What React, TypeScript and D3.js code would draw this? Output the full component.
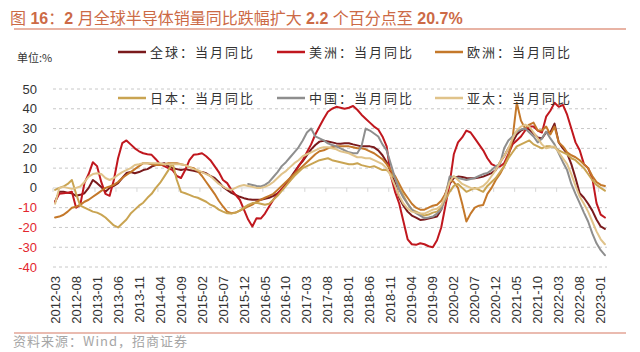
import React from 'react';
import * as d3 from 'd3';

const W = 640;
const H = 352;

// monthly categories 2012-03 .. 2023-02
const months: string[] = [];
for (let yr = 2012; yr <= 2023; yr++) {
  for (let m = 1; m <= 12; m++) {
    if (yr === 2012 && m < 3) continue;
    if (yr === 2023 && m > 2) continue;
    months.push(`${yr}-${String(m).padStart(2, '0')}`);
  }
}

const tickLabels = [
  '2012-03', '2012-08', '2013-01', '2013-06', '2013-11', '2014-04', '2014-09',
  '2015-02', '2015-07', '2015-12', '2016-05', '2016-10', '2017-03', '2017-08',
  '2018-01', '2018-06', '2018-11', '2019-04', '2019-09', '2020-02', '2020-07',
  '2020-12', '2021-05', '2021-10', '2022-03', '2022-08', '2023-01'
];

const yTicks = [50, 40, 30, 20, 10, 0, -10, -20, -30, -40];

// 全球：当月同比
const globalYoy = [
  -7, -2, -2, -2.5, -2.7, -4, -3.5, -2.7, 0, 4,
  2.4, 0.5, -2, 0, 1, 2.4, 5, 7.5, 8, 7.4, 8, 9,
  9.5, 10.8, 11.5, 12, 12.5, 11, 10, 9.5, 9, 9.5, 9, 8.7,
  8.2, 8, 7.4, 6, 5, 3, 0.5, -1, -2.5, -3.5, -4.5, -5.2,
  -5.7, -6, -6, -6, -5.5, -5, -4, -2.7, -1, 2, 5, 8,
  11, 13.5, 16.5, 19.5, 21.7, 23.4, 23.8, 23.5, 23, 22.5, 22.3, 22.6,
  22.6, 22, 21.5, 21, 21, 21, 20.5, 19, 16.5, 13, 8, 2.5,
  -5, -9, -12, -14, -15, -16.2, -16, -15.5, -15, -14.5, -11, -3,
  2, 5, 5.7, 5.5, 5, 4.9, 4.9, 5.2, 5.7, 6.6, 7.5, 9,
  13, 16, 20, 23, 27, 29, 30, 29.5, 27.5, 25.5, 25, 28,
  28, 32.5, 23, 20, 17.5, 12, 5, -2.7, -5, -8, -11.5, -16,
  -19.5, -20.7
];

// 美洲：当月同比
const americasYoy = [
  -7, -3, -2.7, -2.5, -2, -10, -8.6, 2.5, 7, 13,
  11, 3, -3, -4, 4, 15, 22.6, 24, 22, 20, 18.5, 17.5,
  17, 16.7, 14.5, 12, 11, 10, 9, 6, 5, 9, 14, 16.7,
  17, 17.5, 16, 14, 11, 8, 4, 2.4, -1, -3.5, -6, -11,
  -16, -19.5, -15.3, -15.5, -13, -9.4, -6, -3, -0.5, 1.5, 4, 7,
  11, 14, 18, 22, 27, 31, 35, 38.5, 40, 41, 40.5, 40,
  40.5, 41.4, 39.5, 37, 35, 33, 31, 29.5, 26, 21, 6, -2,
  -8, -17, -26, -28.5, -28.8, -28, -28.5, -29.5, -30, -26.5, -20, -9,
  2, 17, 23, 25.5, 29, 28, 25, 22, 19, 15, 12, 11,
  10.8, 12.5, 17, 22, 24, 26, 29, 31, 31, 29, 28, 36,
  39, 43, 41, 42, 37, 30, 23, 19, 12, 10, 5, -7.7,
  -13.5, -15
];

// 欧洲：当月同比
const europeYoy = [
  -15, -14.5, -13.6, -12, -10, -9.5, -8.6, -7, -6, -4.5,
  -3, -1.5, 0, 0.7, 1.5, 3, 5, 6.5, 8, 9.5, 11, 12.5,
  12.5, 12, 11.6, 11.6, 12, 12.5, 12.5, 12.5, 12, 11.5, 10.5, 10,
  8.5, 6, 3, 0, -3, -6.5, -9.4, -12, -12.8, -12.5, -11.5, -10.5,
  -9.4, -8.5, -7, -6, -5, -4, -3, -1, 1, 3, 5, 7,
  9, 11, 13, 15, 17, 18.5, 19, 20, 20.5, 21, 21, 21,
  21, 20.5, 20, 20, 19.5, 18.5, 17.5, 16, 14.5, 12, 9, 6,
  2, -2, -5, -8, -10, -11, -11, -10, -9, -8.5, -6.5, -3,
  4, 3, 0, -8, -17, -13, -10, -9, -8.6, -3, 0, 4,
  7, 11, 16, 25, 43, 34, 30, 32, 33, 29, 29, 31,
  27, 31, 23, 21, 18, 16.5, 15.5, 14, 12, 10, 6, 3,
  1.5, 1
];

// 日本：当月同比
const japanYoy = [
  -1, 0, 0.7, 2, 4, -3, -9, -10, -11, -12,
  -12.5, -13.5, -15, -17, -19, -20, -18, -16, -13, -11, -9, -7.5,
  -5, -3, 0, 2.5, 5.7, 9, 12.5, 4, -2, -2.7, -3.5, -4.4,
  -5, -6, -7, -8.5, -9.4, -11, -12, -12.8, -13, -12.5, -11.5, -10,
  -8.6, -7.7, -7.5, -8, -8.5, -8, -6, -4, -1.5, 1, 3.5, 6,
  8, 10, 11, 12, 13, 14, 14.5, 15, 14, 13.5, 13, 12.5,
  12, 12, 12.5, 11.5, 11, 10.5, 11, 10, 9, 9, 7, 5,
  0, -4, -8, -11, -12, -13, -14, -13.5, -12.5, -12, -10, -6,
  -2, 1, 2, 0, -2, -1, 0, -1, -2, 1, 3, 5,
  8, 11, 15, 18, 21, 22, 23, 24, 22, 21, 20, 21,
  21, 20.5, 19, 18, 17, 15, 14, 12, 10, 7, 4, 1.5,
  0, -1.4
];

// 中国：当月同比 (from 2016-01)
const chinaYoy: (number | null)[] = [
  null, null, null, null, null, null, null, null, null, null,
  null, null, null, null, null, null, null, null, null, null, null, null,
  null, null, null, null, null, null, null, null, null, null, null, null,
  null, null, null, null, null, null, null, null, null, null, null, null,
  2, 1.5, 1, 0.7, 1.5, 3, 5.5, 8, 11, 13, 15.5, 18,
  20.5, 24, 28, 30, 26, 25, 24, 22.5, 21.7, 21, 20, 19,
  18, 17.5, 17.5, 21, 30, 29, 27.5, 26, 22, 19, 12, 5,
  -1, -5, -8, -11, -12.8, -14, -15.3, -15, -14.5, -13, -11, -4.5,
  5.7, 5.5, 5, 4.5, 4, 4.5, 5, 6, 7, 7.5, 9, 11,
  12, 20, 24, 26, 28.5, 29.5, 30, 28, 26, 23, 25, 28.5,
  25, 22, 17.5, 13, 9, 2, -3, -7.7, -12.5, -17, -23, -28,
  -31.5, -34
];

// 亚太：当月同比
const asiaPacYoy = [
  -8, 0, 0.5, 0, -0.5, 0, 0.7, 3, 5.7, 7,
  7.4, 7, 5, 4, 5, 6.6, 8, 9, 10, 11.6, 12, 12.5,
  12.5, 12.5, 12.5, 12.5, 12, 12, 12, 12, 12, 11.5, 10.5, 9.5,
  9, 8, 7, 6, 4, 2, 0.7, -0.5, -1, 0, 1, 1.5,
  1, 0.5, 0, 0, 0.5, 1.5, 3, 5, 7, 8.5, 10.5, 12.5,
  14, 16, 17, 18, 19, 20, 20.5, 20.5, 20, 19.5, 18.5, 18,
  17.5, 16.5, 15.5, 15.5, 15, 15, 14, 13, 12, 10, 6, 1,
  -4, -8, -10.5, -12, -12.5, -13, -13, -12, -11, -10.5, -9, -4,
  3, 6, 4, 2, 1, 0, -0.5, 0, 1, 3, 6, 9,
  13, 16, 20, 25, 29, 31, 32, 31, 28, 25, 22, 20,
  20.5, 21, 18, 15, 12, 7, 1, -4.4, -8, -12, -17, -22,
  -26, -28.5
];

const series = [
  { name: '全球：当月同比', color: '#7a1a1c', data: globalYoy },
  { name: '美洲：当月同比', color: '#c0171e', data: americasYoy },
  { name: '欧洲：当月同比', color: '#c4782a', data: europeYoy },
  { name: '日本：当月同比', color: '#c9a452', data: japanYoy },
  { name: '中国：当月同比', color: '#8e8e8e', data: chinaYoy },
  { name: '亚太：当月同比', color: '#e0c38a', data: asiaPacYoy }
];

const CJK = '"Noto Sans CJK SC", "Noto Sans", sans-serif';
const LAT = '"Liberation Sans", Arial, sans-serif';

const App: React.FC = () => {
  const x = d3.scaleBand<string>().domain(months).range([53, 607]);
  const cx = (m: string) => (x(m) as number) + x.bandwidth() / 2;
  const y = d3.scaleLinear().domain([-40, 50]).range([267, 89]);

  const line = d3
    .line<number | null>()
    .defined(d => d != null)
    .x((_, i) => cx(months[i]))
    .y(d => y(d as number));

  const legendCols = [118, 277, 435];
  const legendRows = [52, 98];

  return (
    <svg
      width={W}
      height={H}
      viewBox={`0 0 ${W} ${H}`}
      style={{ position: 'absolute', left: 0, top: 0, background: '#fff' }}
    >
      <rect width={W} height={H} fill="#fff" />
      {/* title */}
      <text x={10} y={24} fontSize={16} fill="#cc6a46" fontFamily={CJK}>
        <tspan>图</tspan>
        <tspan fontFamily={LAT} fontWeight="bold"> 16</tspan>
        <tspan>：</tspan>
        <tspan fontFamily={LAT} fontWeight="bold">2 </tspan>
        <tspan>月全球半导体销量同比跌幅扩大</tspan>
        <tspan fontFamily={LAT} fontWeight="bold"> 2.2 </tspan>
        <tspan>个百分点至</tspan>
        <tspan fontFamily={LAT} fontWeight="bold"> 20.7%</tspan>
      </text>
      <line x1={14} x2={626} y1={29} y2={29} stroke="#e09a86" strokeWidth={1.5} />

      <text x={17} y={62} fontSize={11} fill="#333" fontFamily={CJK}>单位:%</text>

      {/* grid */}
      {yTicks.map(t => (
        <line
          key={t}
          x1={53}
          x2={607}
          y1={y(t)}
          y2={y(t)}
          stroke={t === 0 ? '#d6d6d6' : '#c8c8c8'}
          strokeWidth={1}
          strokeDasharray={t === 0 ? undefined : '3 3'}
        />
      ))}
      {tickLabels.map(m => (
        <line
          key={'tk' + m}
          x1={x(m) as number}
          x2={x(m) as number}
          y1={y(0)}
          y2={y(0) + 4}
          stroke="#d6d6d6"
        />
      ))}

      {/* y labels */}
      {yTicks.map(t => (
        <text
          key={'yl' + t}
          x={37}
          y={y(t)}
          dy="0.35em"
          textAnchor="end"
          fontSize={13}
          fontFamily={LAT}
          fill={t < 0 ? '#e3262e' : '#333'}
        >
          {t}
        </text>
      ))}

      {/* x labels */}
      {tickLabels.map(m => (
        <text
          key={'xl' + m}
          transform={`translate(${cx(m)},276) rotate(-90)`}
          dy="0.35em"
          textAnchor="end"
          fontSize={13}
          fontFamily={LAT}
          fill="#333"
        >
          {m}
        </text>
      ))}

      {/* series */}
      {series.map(s => (
        <path
          key={s.name}
          d={line(s.data) || ''}
          fill="none"
          stroke={s.color}
          strokeWidth={2}
          strokeLinejoin="round"
          strokeLinecap="round"
        />
      ))}

      {/* legend */}
      {series.map((s, i) => {
        const lx = legendCols[i % 3];
        const ly = legendRows[Math.floor(i / 3)];
        return (
          <g key={'lg' + s.name}>
            <line x1={lx} x2={lx + 28} y1={ly} y2={ly} stroke={s.color} strokeWidth={2.5} />
            <text
              x={lx + 32}
              y={ly}
              dy="0.36em"
              fontSize={13}
              letterSpacing={2}
              fontFamily={CJK}
              fill="#333"
            >
              {s.name}
            </text>
          </g>
        );
      })}

      {/* footer */}
      <line x1={14} x2={626} y1={333} y2={333} stroke="#e3a596" strokeWidth={1.5} />
      <text x={13} y={346} fontSize={13} letterSpacing={1} fill="#a6a6a6" fontFamily={CJK}>
        资料来源：Wind，招商证券
      </text>
    </svg>
  );
};

export default App;
